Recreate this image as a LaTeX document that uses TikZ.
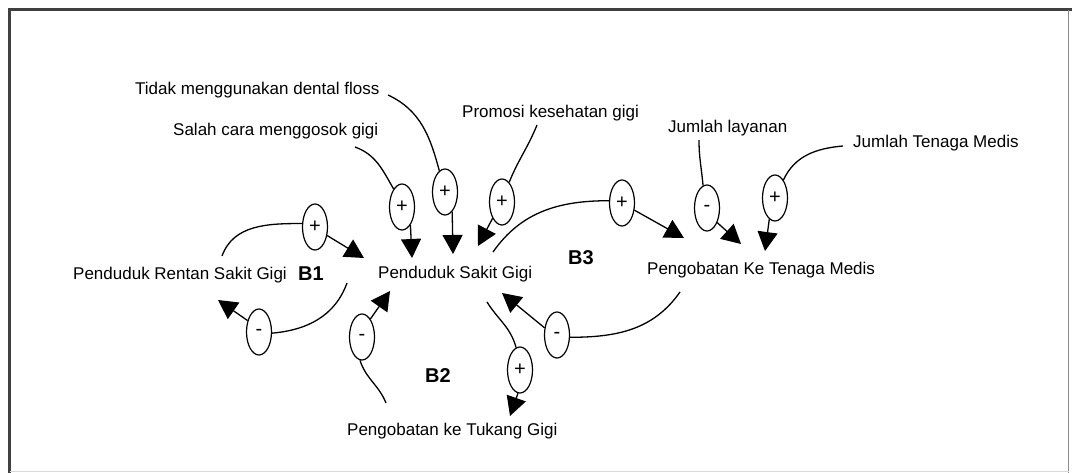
\documentclass[tikz,border=0pt]{standalone}
\usepackage{fontspec}
\setmainfont{Liberation Sans}
\usetikzlibrary{arrows.meta,shapes.geometric}
\begin{document}
\begin{tikzpicture}[x=1pt,y=-1pt,
 var/.style={anchor=base west,inner sep=0pt,font=\fontsize{17}{20}\selectfont},
 loopname/.style={anchor=base west,inner sep=0pt,font=\fontsize{20}{24}\selectfont\bfseries},
 pol/.style={draw,ellipse,line width=1.2pt,minimum width=25pt,minimum height=46pt,inner sep=0pt,font=\fontsize{20}{22}\selectfont},
 link/.style={line width=1.3pt},
 arr/.style={link,-{Triangle[length=19pt,width=20pt]}},
 frame/.style={draw=black!75}]
\useasboundingbox (0,0) rectangle (1072,473);
% frame
\draw[frame,line width=3pt] (8,10) -- (1072,10);
\draw[frame,line width=2.5pt] (9.5,10) -- (9.5,473);
\draw[draw=black!45,line width=1pt] (1068.5,10) -- (1068.5,473);
\draw[draw=black!15,line width=1pt] (9.5,471.5) -- (1068.5,471.5);

% variables
\node[var] (PR) at (73,280) {Penduduk Rentan Sakit Gigi};
\node[var] (PS) at (378,279) {Penduduk Sakit Gigi};
\node[var] (PT) at (647,275) {Pengobatan Ke Tenaga Medis};
\node[var] (TG) at (347,435) {Pengobatan ke Tukang Gigi};
\node[var] (SC) at (173,136) {Salah cara menggosok gigi};
\node[var] (TD) at (135,95) {Tidak menggunakan dental floss};
\node[var] (PK) at (462,118) {Promosi kesehatan gigi};
\node[var] (JL) at (668,133) {Jumlah layanan};
\node[var] (JT) at (853,148) {Jumlah Tenaga Medis};

% loop labels
\node[loopname] (B1) at (298,281) {B1};
\node[loopname] (B2) at (425,382) {B2};
\node[loopname] (B3) at (568,265) {B3};

% polarity markers
\node[pol] (p1) at (315,227) {+};
\node[pol] (p2) at (259,332) {-};
\node[pol] (p3) at (362,337) {-};
\node[pol] (p4) at (402,207) {+};
\node[pol] (p5) at (445,192) {+};
\node[pol] (p6) at (502,202) {+};
\node[pol] (p7) at (622,203) {+};
\node[pol] (p8) at (707,208) {-};
\node[pol] (p9) at (775,198) {+};
\node[pol] (p10) at (557,335) {-};
\node[pol] (p11) at (520,370) {+};

% connector ends
\coordinate (a1) at (222,256);  \coordinate (t1) at (364,258);
\coordinate (a2) at (347,283);  \coordinate (t2) at (218,300);
\coordinate (a3) at (386,403);  \coordinate (t3) at (390,291);
\coordinate (a4) at (355,147);  \coordinate (t4) at (412,258);
\coordinate (a5) at (388,95);   \coordinate (t5) at (453,254);
\coordinate (a6) at (537,125);  \coordinate (t6) at (478,246);
\coordinate (a7) at (493,252);  \coordinate (t7) at (684,238);
\coordinate (a8) at (699,140);  \coordinate (t8) at (741,244);
\coordinate (a9) at (843,146);  \coordinate (t9) at (765,251);
\coordinate (a10) at (680,292); \coordinate (t10) at (502,293);
\coordinate (a11) at (487,302); \coordinate (t11) at (510,416);

% B1
\draw[link] (a1) to[out=70,in=180] (p1.165);
\draw[arr] (p1.-35) -- (t1);
\draw[link] (a2) to[out=-110,in=5] (p2.-5);
\draw[arr] (p2.135) -- (t2);
% B2
\draw[link] (a3) to[out=112,in=-72] (p3.-95);
\draw[arr] (p3.65) -- (t3);
% exogenous to Penduduk Sakit Gigi
\draw[link] (a4) to[out=-20,in=120] (p4.115);
\draw[arr] (p4.-65) -- (t4);
\draw[link] (a5) to[out=-25,in=105] (p5.105);
\draw[arr] (p5.-70) -- (t5);
\draw[link] (a6) to[out=-112,in=68] (p6.70);
\draw[arr] (p6.-120) -- (t6);
% B3
\draw[link] (a7) to[out=55,in=180] (p7.170);
\draw[arr] (p7.-30) -- (t7);
\draw[link] (a10) to[out=-125,in=0] (p10.-10);
\draw[arr] (p10.150) -- (t10);
% Tukang gigi
\draw[link] (a11) to[out=-58,in=105] (p11.100);
\draw[arr] (p11.-95) -- (t11);
% exogenous to Pengobatan Ke Tenaga Medis
\draw[link] (a8) to[out=-90,in=95] (p8.100);
\draw[arr] (p8.-55) -- (t8);
\draw[link] (a9) to[out=185,in=65] (p9.65);
\draw[arr] (p9.-105) -- (t9);
\end{tikzpicture}
\end{document}
